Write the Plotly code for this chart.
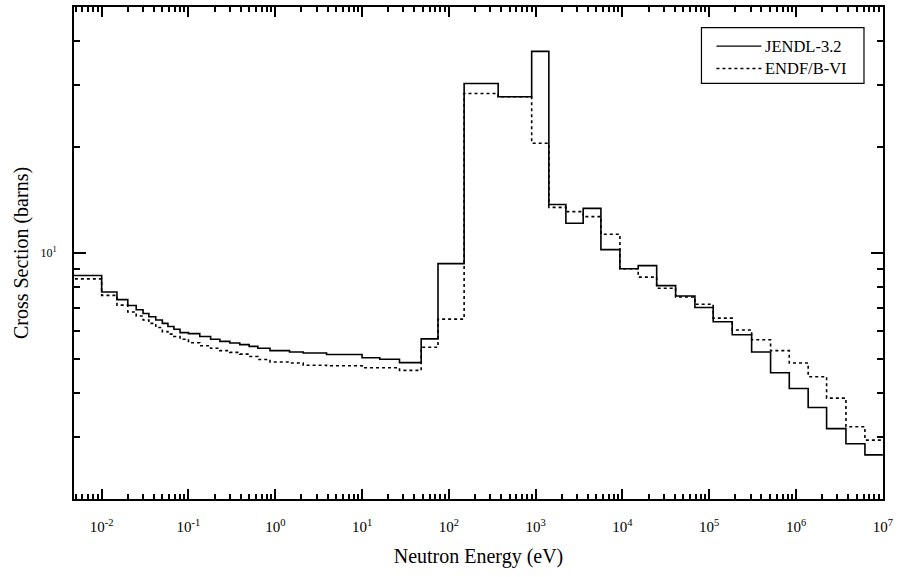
import math
import plotly.graph_objects as go

# Group boundaries (eV)
edges = [1e-3, 0.01, 0.015, 0.02, 0.025, 0.03, 0.035, 0.042, 0.05, 0.058, 0.068,
         0.08, 0.1, 0.135, 0.18, 0.23, 0.3, 0.39, 0.5, 0.63, 0.87,
         1.46, 2.1, 3.9, 10, 16, 27, 48, 75, 150, 370,
         900, 1420, 2230, 3530, 5650, 9350, 15200, 24800, 41000, 68400,
         111000, 184000, 308000, 509000, 836000, 1.38e6, 2.25e6, 3.76e6, 6.22e6, 1.0e7]

jendl = [8.63, 7.75, 7.37, 7.09, 6.90, 6.73, 6.59, 6.45, 6.31, 6.18,
         6.07, 5.94, 5.90, 5.79, 5.69, 5.61, 5.55, 5.49, 5.43, 5.36,
         5.28, 5.23, 5.20, 5.15, 5.04, 4.99, 4.88, 5.70, 9.33, 30.3,
         27.8, 37.4, 13.74, 12.15, 13.39, 10.22, 9.02, 9.21, 8.08, 7.55,
         7.0, 6.38, 5.86, 5.23, 4.57, 4.12, 3.64, 3.17, 2.87, 2.67]

endf = [8.44, 7.58, 7.11, 6.80, 6.62, 6.45, 6.31, 6.14, 5.98, 5.88,
        5.79, 5.69, 5.56, 5.45, 5.36, 5.28, 5.22, 5.16, 5.08, 4.98,
        4.90, 4.87, 4.80, 4.78, 4.72, 4.72, 4.64, 5.40, 6.49, 28.4,
        27.8, 20.5, 13.48, 13.11, 12.69, 11.31, 9.02, 8.54, 7.94, 7.5,
        7.15, 6.53, 6.04, 5.67, 5.28, 4.87, 4.45, 3.87, 3.21, 2.94]

series_names = ["JENDL-3.2", "ENDF/B-VI"]

x_major = [1e-2, 1e-1, 1e0, 1e1, 1e2, 1e3, 1e4, 1e5, 1e6, 1e7]
x_labels = ["10<sup>-2</sup>", "10<sup>-1</sup>", "10<sup>0</sup>", "10<sup>1</sup>",
            "10<sup>2</sup>", "10<sup>3</sup>", "10<sup>4</sup>", "10<sup>5</sup>",
            "10<sup>6</sup>", "10<sup>7</sup>"]
y_major = [10]
y_labels = ["10<sup>1</sup>"]

x_minor = [k * 10.0 ** d for d in range(-3, 7) for k in range(2, 10)]
y_minor = [2, 3, 4, 5, 6, 7, 8, 9, 20, 30, 40]

FONT = "Liberation Serif, Times New Roman, serif"

fig = go.Figure()
fig.add_trace(go.Scatter(x=edges, y=jendl + [jendl[-1]], mode="lines", line_shape="hv",
                         line=dict(color="black", width=1.6), name=series_names[0],
                         showlegend=False))
fig.add_trace(go.Scatter(x=edges, y=endf + [endf[-1]], mode="lines", line_shape="hv",
                         line=dict(color="black", width=1.6, dash="dot"), name=series_names[1],
                         showlegend=False))

# Legend box drawn in paper coordinates
box = dict(x0=0.7756, x1=0.9765, y0=0.8447, y1=0.9581)
legend_rows = [(0.9204, "solid"), (0.8751, "dot")]
shapes = [dict(type="rect", xref="paper", yref="paper", line=dict(color="black", width=1.2),
               fillcolor="white", **box)]
annotations = []
for (yy, dash), name in zip(legend_rows, series_names):
    shapes.append(dict(type="line", xref="paper", yref="paper", x0=0.7941, x1=0.8497,
                       y0=yy, y1=yy, line=dict(color="black", width=1.4, dash=dash)))
    annotations.append(dict(xref="paper", yref="paper", x=0.8516, y=yy, text=name,
                            showarrow=False, xanchor="left", yanchor="middle",
                            font=dict(family=FONT, size=16.5, color="black")))

fig.update_layout(
    width=898, height=577,
    margin=dict(l=74, r=15, t=5, b=78),
    paper_bgcolor="white", plot_bgcolor="white",
    font=dict(family=FONT, color="black", size=15),
    showlegend=False,
    shapes=shapes,
    annotations=annotations,
    xaxis=dict(type="log", range=[math.log10(0.0048), 7.002],
               tickmode="array", tickvals=x_major, ticktext=x_labels,
               ticks="inside", ticklen=10, tickwidth=2, tickcolor="black",
               showline=True, linewidth=2, linecolor="black", mirror="ticks",
               showgrid=False, zeroline=False,
               ticklabelstandoff=13,
               tickfont=dict(family=FONT, size=15),
               minor=dict(tickmode="array", tickvals=x_minor, ticks="inside",
                          ticklen=5, tickwidth=1.5, tickcolor="black", showgrid=False),
               title=dict(text="Neutron Energy (eV)", font=dict(family=FONT, size=20),
                          standoff=15)),
    yaxis=dict(type="log", range=[math.log10(2), math.log10(50)],
               tickmode="array", tickvals=y_major, ticktext=y_labels,
               ticks="inside", ticklen=12, tickwidth=2, tickcolor="black",
               showline=True, linewidth=2, linecolor="black", mirror="ticks",
               showgrid=False, zeroline=False,
               ticklabelstandoff=13,
               tickfont=dict(family=FONT, size=12),
               minor=dict(tickmode="array", tickvals=y_minor, ticks="inside",
                          ticklen=6, tickwidth=1.5, tickcolor="black", showgrid=False),
               title=dict(text="Cross Section (barns)", font=dict(family=FONT, size=20),
                          standoff=6)),
)

fig.write_html("out.html", config={"displayModeBar": False},
               post_script="document.body.style.margin='0';")
